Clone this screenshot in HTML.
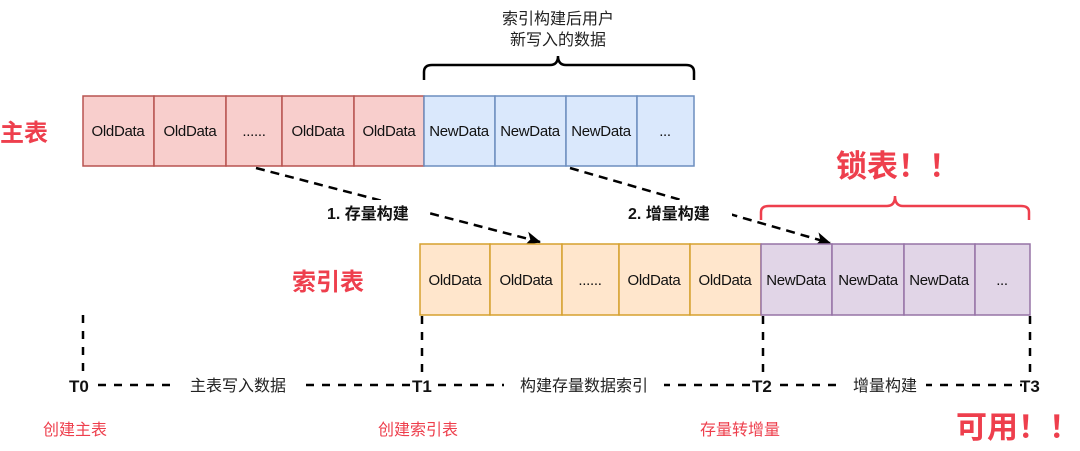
<!DOCTYPE html>
<html><head><meta charset="utf-8"><style>
body{margin:0;background:#fff}
svg{display:block}
text{font-family:"Liberation Sans","Noto Sans CJK SC",sans-serif}
</style></head><body>
<svg width="1080" height="451" viewBox="0 0 1080 451" xmlns="http://www.w3.org/2000/svg">
<defs><marker id="ah" markerWidth="16" markerHeight="14" refX="14" refY="7" orient="auto" markerUnits="userSpaceOnUse"><path d="M0,0 L15,7 L0,14 L4,7 Z" fill="#000"/></marker></defs>
<text x="558" y="24" font-size="16" text-anchor="middle" fill="#222">索引构建后用户</text>
<text x="558" y="45" font-size="16" text-anchor="middle" fill="#222">新写入的数据</text>
<path d="M424,80 V72 Q424,65 432,65 H550 Q558,65 558,56 Q558,65 566,65 H686 Q694,65 694,72 V80" fill="none" stroke="#000" stroke-width="2.5"/>
<g stroke="#b85450" stroke-width="1.5" fill="#f8cecc">
<rect x="83" y="96" width="71" height="70"/><rect x="154" y="96" width="72" height="70"/><rect x="226" y="96" width="56" height="70"/><rect x="282" y="96" width="72" height="70"/><rect x="354" y="96" width="70" height="70"/>
</g>
<g stroke="#6c8ebf" stroke-width="1.5" fill="#dae8fc">
<rect x="424" y="96" width="71" height="70"/><rect x="495" y="96" width="71" height="70"/><rect x="566" y="96" width="71" height="70"/><rect x="637" y="96" width="57" height="70"/>
</g>
<g font-size="15" text-anchor="middle" fill="#111" letter-spacing="-0.3">
<text x="118" y="136">OldData</text><text x="190" y="136">OldData</text><text x="254" y="136">......</text><text x="318" y="136">OldData</text><text x="389" y="136">OldData</text>
<text x="459" y="136">NewData</text><text x="530" y="136">NewData</text><text x="601" y="136">NewData</text><text x="665" y="136">...</text>
</g>
<text x="0" y="141" font-size="24" font-weight="bold" fill="#ee3f4d">主表</text>
<line x1="256" y1="168" x2="540" y2="242" stroke="#000" stroke-width="2.5" stroke-dasharray="9,6" marker-end="url(#ah)"/>
<line x1="570" y1="168" x2="830" y2="243" stroke="#000" stroke-width="2.5" stroke-dasharray="9,6" marker-end="url(#ah)"/>
<rect x="325" y="200" width="105" height="24" fill="#fff"/>
<rect x="626" y="200" width="106" height="24" fill="#fff"/>
<text x="327" y="219" font-size="16" font-weight="bold" fill="#111">1. 存量构建</text>
<text x="628" y="219" font-size="16" font-weight="bold" fill="#111">2. 增量构建</text>
<text x="836" y="177" font-size="31" font-weight="bold" fill="#ee3f4d">锁表！！</text>
<path d="M761,220 V212 Q761,206 769,206 H887 Q895,206 895,196 Q895,206 903,206 H1021 Q1029,206 1029,212 V220" fill="none" stroke="#ee3f4d" stroke-width="2.5"/>
<g stroke="#d6a12f" stroke-width="1.5" fill="#ffe6cc">
<rect x="420" y="244" width="70" height="71"/><rect x="490" y="244" width="72" height="71"/><rect x="562" y="244" width="57" height="71"/><rect x="619" y="244" width="71" height="71"/><rect x="690" y="244" width="71" height="71"/>
</g>
<g stroke="#9673a6" stroke-width="1.5" fill="#e1d5e7">
<rect x="761" y="244" width="71" height="71"/><rect x="832" y="244" width="72" height="71"/><rect x="904" y="244" width="71" height="71"/><rect x="975" y="244" width="55" height="71"/>
</g>
<g font-size="15" text-anchor="middle" fill="#111" letter-spacing="-0.3">
<text x="455" y="285">OldData</text><text x="526" y="285">OldData</text><text x="590" y="285">......</text><text x="654" y="285">OldData</text><text x="725" y="285">OldData</text>
<text x="796" y="285">NewData</text><text x="868" y="285">NewData</text><text x="939" y="285">NewData</text><text x="1002" y="285">...</text>
</g>
<text x="292" y="290" font-size="24" font-weight="bold" fill="#ee3f4d">索引表</text>
<g stroke="#000" stroke-width="2.5" stroke-dasharray="8,8">
<line x1="83" y1="315" x2="83" y2="373"/><line x1="422" y1="316" x2="422" y2="373"/><line x1="763" y1="316" x2="763" y2="373"/><line x1="1030" y1="316" x2="1030" y2="373"/>
<line x1="98" y1="385" x2="412" y2="385"/><line x1="438" y1="385" x2="752" y2="385"/><line x1="780" y1="385" x2="1022" y2="385"/>
</g>
<rect x="177" y="374" width="122" height="22" fill="#fff"/>
<rect x="504" y="374" width="160" height="22" fill="#fff"/>
<rect x="844" y="374" width="82" height="22" fill="#fff"/>
<g font-size="17" font-weight="bold" fill="#111">
<text x="69" y="392">T0</text><text x="412" y="392">T1</text><text x="752" y="392">T2</text><text x="1020" y="392">T3</text>
</g>
<g font-size="16" fill="#222" text-anchor="middle">
<text x="238" y="391">主表写入数据</text><text x="584" y="391">构建存量数据索引</text><text x="885" y="391">增量构建</text>
</g>
<g font-size="16" fill="#ee3f4d">
<text x="43" y="435">创建主表</text><text x="378" y="435">创建索引表</text><text x="700" y="435">存量转增量</text>
</g>
<text x="956" y="438" font-size="31" font-weight="bold" fill="#ee3f4d">可用！！</text>
</svg>
</body></html>
